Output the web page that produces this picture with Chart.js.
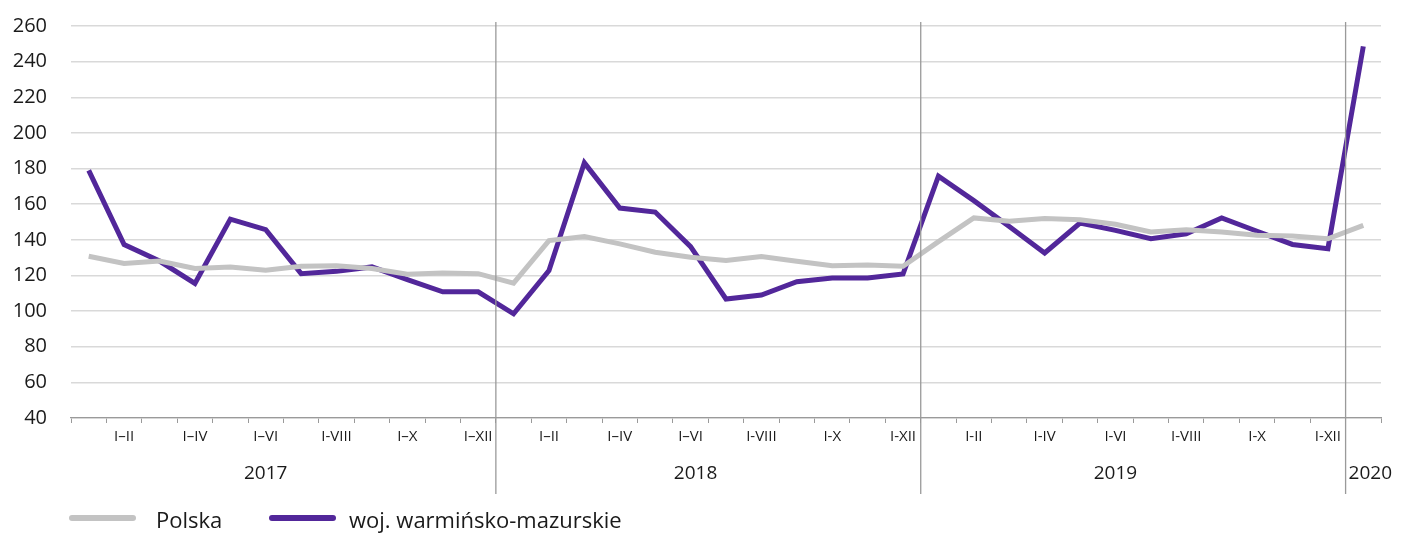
<!DOCTYPE html>
<html>
<head>
<meta charset="utf-8">
<script src="https://cdn.jsdelivr.net/npm/chart.js@4"></script>
<style>
  body { margin: 0; background: #fff; }
  #wrap { width: 1408px; height: 533px; }
</style>
</head>
<body>
<div id="wrap"><canvas id="chart" width="1408" height="533"></canvas></div>
<script>
const tickLabels = [
    '', 'I–II', '', 'I–IV', '', 'I–VI', '', 'I-VIII', '', 'I–X', '', 'I–XII',
    '', 'I–II', '', 'I–IV', '', 'I–VI', '', 'I-VIII', '', 'I-X', '', 'I-XII',
    '', 'I-II', '', 'I-IV', '', 'I-VI', '', 'I-VIII', '', 'I-X', '', 'I-XII',
    ''
];
const years = ['2017', '2018', '2019', '2020'];
const polska = [
    130.8, 126.7, 128.1, 123.9, 124.8, 122.9, 125.1, 125.5, 123.9, 120.7, 121.4, 121.0,
    115.7, 139.6, 141.9, 137.7, 133.0, 130.2, 128.4, 130.6, 128.0, 125.5, 125.9, 125.2,
    139.0, 152.3, 150.4, 151.9, 151.3, 148.7, 144.4, 145.7, 144.4, 142.5, 142.1, 140.6,
    148.1
];
const warminsko = [
    179.0, 137.3, 128.1, 115.5, 151.6, 145.7, 121.0, 122.3, 124.8, 117.7, 110.8, 110.8,
    98.5, 122.7, 183.2, 157.8, 155.6, 136.2, 106.8, 109.0, 116.5, 118.6, 118.6, 120.8,
    175.7, 162.0, 147.5, 132.6, 149.4, 145.3, 140.6, 143.4, 152.3, 144.8, 137.4, 135.0,
    248.6
];

const FONT = '"Open Sans", "Noto Sans", sans-serif';
const GRAY = '#c3c3c3';
const PURPLE = '#52279a';

// year labels, separators and legend drawn by hand
const extras = {
    id: 'extras',
    afterDraw(chart) {
        const ctx = chart.ctx;
        const x = chart.scales.x;
        ctx.save();
        ctx.strokeStyle = '#9a9a9a';
        ctx.lineWidth = 1.3;
        [12, 24, 36].forEach(i => {
            const px = (x.getPixelForValue(i - 1) + x.getPixelForValue(i)) / 2;
            ctx.beginPath();
            ctx.moveTo(px, 22);
            ctx.lineTo(px, 494);
            ctx.stroke();
        });
        ctx.fillStyle = '#1a1a1a';
        ctx.font = '19px ' + FONT;
        ctx.textBaseline = 'middle';
        ctx.textAlign = 'center';
        years.forEach((y, k) => {
            if (k < 3) {
                ctx.fillText(y, x.getPixelForValue(k * 12 + 5) + (k === 1 ? 5 : 0), 474);
            } else {
                const sep = (x.getPixelForValue(35) + x.getPixelForValue(36)) / 2;
                ctx.textAlign = 'left';
                ctx.fillText(y, sep + 3, 474);
            }
        });
        // legend
        const items = [
            { text: 'Polska', color: GRAY, x0: 72, x1: 133, tx: 156 },
            { text: 'woj. warmińsko-mazurskie', color: PURPLE, x0: 272, x1: 333, tx: 349 }
        ];
        ctx.font = '22px ' + FONT;
        ctx.textAlign = 'left';
        ctx.lineCap = 'round';
        items.forEach(it => {
            ctx.strokeStyle = it.color;
            ctx.lineWidth = 6;
            ctx.beginPath();
            ctx.moveTo(it.x0, 518);
            ctx.lineTo(it.x1, 518);
            ctx.stroke();
            ctx.fillText(it.text, it.tx, 522);
        });
        ctx.restore();
    }
};

new Chart(document.getElementById('chart'), {
    type: 'line',
    data: {
        labels: tickLabels,
        datasets: [{
            label: 'Polska',
            data: polska,
            borderColor: GRAY,
            backgroundColor: GRAY,
            borderWidth: 5,
            pointRadius: 0,
            tension: 0
        }, {
            label: 'woj. warmińsko-mazurskie',
            data: warminsko,
            borderColor: PURPLE,
            backgroundColor: PURPLE,
            borderWidth: 5,
            pointRadius: 0,
            tension: 0
        }]
    },
    options: {
        responsive: false,
        animation: false,
        layout: { padding: { top: 26, right: 27, left: 0, bottom: 0 } },
        plugins: {
            legend: { display: false },
            tooltip: { enabled: false }
        },
        scales: {
            x: {
                offset: true,
                grid: {
                    offset: true,
                    drawOnChartArea: false,
                    drawTicks: true,
                    tickLength: 5,
                    color: '#9a9a9a'
                },
                border: { color: '#9a9a9a', width: 1.3 },
                ticks: {
                    autoSkip: false,
                    maxRotation: 0,
                    padding: 5,
                    color: '#1a1a1a',
                    font: { family: FONT, size: 15 }
                },
                afterFit(scale) { scale.height = 115; }
            },
            y: {
                min: 40,
                max: 260,
                ticks: {
                    stepSize: 20,
                    padding: 24,
                    color: '#1a1a1a',
                    font: { family: FONT, size: 20 }
                },
                grid: { color: '#d9d9d9', lineWidth: 1.5, drawTicks: false },
                border: { display: false },
                afterFit(scale) {
                    scale.width = 71;
                    scale.paddingTop = 0;
                    scale.paddingBottom = 0;
                }
            }
        }
    },
    plugins: [extras]
});
</script>
</body>
</html>
